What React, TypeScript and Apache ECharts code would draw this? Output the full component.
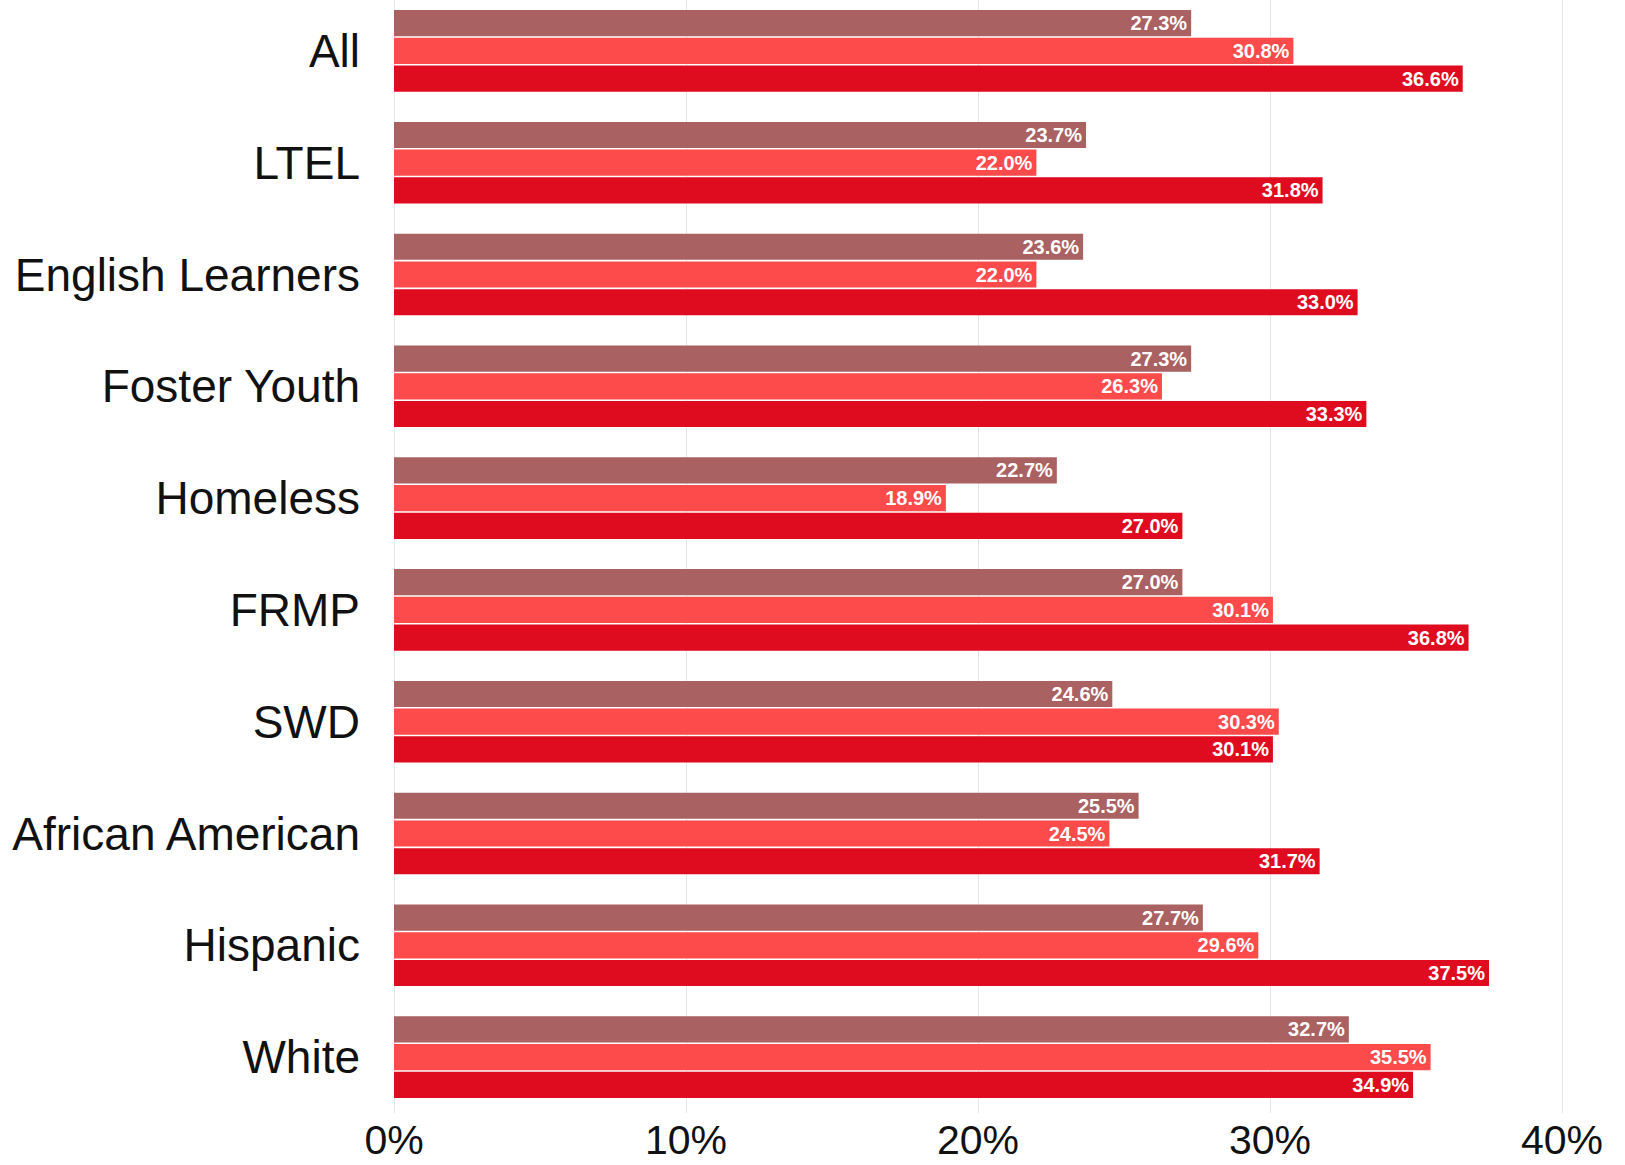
import React, { useEffect, useRef } from "react";
import * as echarts from "echarts";

const categories = ["All", "LTEL", "English Learners", "Foster Youth", "Homeless", "FRMP", "SWD", "African American", "Hispanic", "White"];
const seriesA = [27.3, 23.7, 23.6, 27.3, 22.7, 27.0, 24.6, 25.5, 27.7, 32.7];
const seriesB = [30.8, 22.0, 22.0, 26.3, 18.9, 30.1, 30.3, 24.5, 29.6, 35.5];
const seriesC = [36.6, 31.8, 33.0, 33.3, 27.0, 36.8, 30.1, 31.7, 37.5, 34.9];
const seriesNames = ["A", "B", "C"];
const colors = ["#AA6161", "#FD4A4A", "#DF0B1F"];

export default function App() {
  const ref = useRef<HTMLDivElement>(null);
  useEffect(() => {
    const chart = echarts.init(ref.current!, null, { renderer: "svg" });
    const data = [seriesA, seriesB, seriesC];
    chart.setOption({
      animation: false,
      backgroundColor: "#fff",
      grid: { left: 394, right: 63, top: 5, bottom: 62, containLabel: false },
      xAxis: {
        type: "value",
        min: 0,
        max: 40,
        interval: 10,
        axisLabel: {
          formatter: "{value}%",
          fontSize: 41,
          color: "#111",
          fontFamily: "Liberation Sans, Arial, sans-serif",
          margin: 6,
        },
        splitLine: { lineStyle: { color: "#e6e6e6", width: 1 } },
        axisLine: { show: false },
        axisTick: { show: false },
      },
      yAxis: {
        type: "category",
        data: categories,
        inverse: true,
        axisLabel: {
          fontSize: 46,
          color: "#111",
          fontFamily: "Liberation Sans, Arial, sans-serif",
          margin: 34,
        },
        axisLine: { show: false },
        axisTick: { show: false },
      },
      series: data.map((d, i) => ({
        name: seriesNames[i],
        type: "bar",
        data: d,
        barGap: "6%",
        barCategoryGap: "27%",
        itemStyle: { color: colors[i] },
        label: {
          show: true,
          position: "insideRight",
          distance: 4,
          formatter: (p: any) => p.value.toFixed(1) + "%",
          color: "#fff",
          fontSize: 20,
          fontWeight: "bold",
          fontFamily: "Liberation Sans Narrow, Arial Narrow, sans-serif",
        },
      })),
    });
    return () => chart.dispose();
  }, []);
  return (
    <div style={{ position: "fixed", left: 0, top: 0, width: 1625, height: 1165, overflow: "hidden", background: "#fff" }}>
      <div ref={ref} style={{ position: "absolute", left: 0, top: -10, width: 1625, height: 1185 }} />
    </div>
  );
}
